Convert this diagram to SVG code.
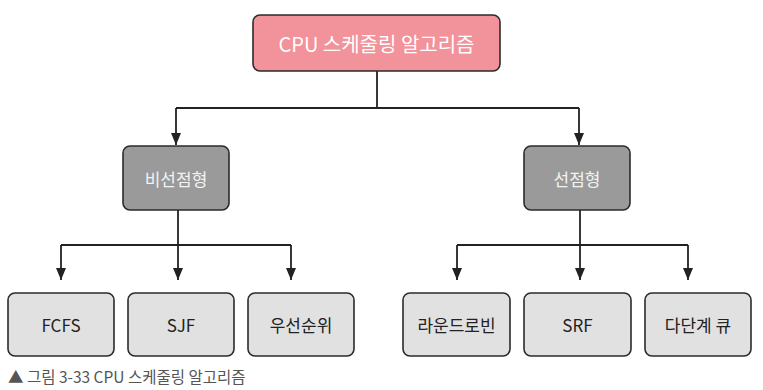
<svg xmlns="http://www.w3.org/2000/svg" width="763" height="390" viewBox="0 0 763 390">
<style>
.box{stroke:#2b2b2b;stroke-width:1.6}
.root{fill:#f2929b}
.mid{fill:#9a9a9a}
.leaf{fill:#e1e1e1}
text{font-family:"Noto Sans CJK KR","Noto Sans",sans-serif;text-anchor:middle;dominant-baseline:central}
.t-root{fill:#ffffff;font-size:20px}
.t-mid{fill:#f2f2f2;font-size:17px}
.t-leaf{fill:#222222;font-size:17px}
.cap{fill:#555555;font-size:15.5px;text-anchor:start;font-family:"Noto Sans CJK KR","Noto Sans",sans-serif}
.ln{stroke:#222;stroke-width:1.8;fill:none}
</style>
<defs>
<marker id="ah" viewBox="0 0 12 10" refX="12" refY="5" markerWidth="12" markerHeight="10" markerUnits="userSpaceOnUse" orient="auto">
<path d="M0,0 L12,5 L0,10 Z" fill="#222"/>
</marker>
</defs>
<rect width="763" height="390" fill="#ffffff"/>
<g id="connectors">
<path class="ln" d="M377,71 V108"/>
<path class="ln" d="M176,108 H579"/>
<path class="ln" d="M176,108 V145" marker-end="url(#ah)"/>
<path class="ln" d="M579,108 V145" marker-end="url(#ah)"/>
<path class="ln" d="M178,210 V280" marker-end="url(#ah)"/>
<path class="ln" d="M61,245 H291"/>
<path class="ln" d="M61,245 V280" marker-end="url(#ah)"/>
<path class="ln" d="M291,245 V280" marker-end="url(#ah)"/>
<path class="ln" d="M580,210 V280" marker-end="url(#ah)"/>
<path class="ln" d="M457,245 H688"/>
<path class="ln" d="M457,245 V280" marker-end="url(#ah)"/>
<path class="ln" d="M688,245 V280" marker-end="url(#ah)"/>
</g>
<g id="root">
<rect class="box root" x="253" y="15" width="247" height="56" rx="7"/>
<text class="t-root" x="376.5" y="43">CPU 스케줄링 알고리즘</text>
</g>
<g id="nonpreemptive">
<rect class="box mid" x="123" y="146" width="106" height="64" rx="7"/>
<text class="t-mid" x="176" y="178">비선점형</text>
</g>
<g id="preemptive">
<rect class="box mid" x="524" y="146" width="106" height="64" rx="7"/>
<text class="t-mid" x="577" y="178">선점형</text>
</g>
<g id="fcfs">
<rect class="box leaf" x="8" y="293" width="106" height="63" rx="7"/>
<text class="t-leaf" x="61" y="324.5">FCFS</text>
</g>
<g id="sjf">
<rect class="box leaf" x="128" y="293" width="106" height="63" rx="7"/>
<text class="t-leaf" x="181" y="324.5">SJF</text>
</g>
<g id="priority">
<rect class="box leaf" x="248" y="293" width="106" height="63" rx="7"/>
<text class="t-leaf" x="301" y="324.5">우선순위</text>
</g>
<g id="roundrobin">
<rect class="box leaf" x="403" y="293" width="107" height="63" rx="7"/>
<text class="t-leaf" x="456.5" y="324.5">라운드로빈</text>
</g>
<g id="srf">
<rect class="box leaf" x="524" y="293" width="107" height="63" rx="7"/>
<text class="t-leaf" x="577.5" y="324.5">SRF</text>
</g>
<g id="multilevel">
<rect class="box leaf" x="645" y="293" width="106" height="63" rx="7"/>
<text class="t-leaf" x="698" y="324.5">다단계 큐</text>
</g>
<text class="cap" x="8" y="376">▲ 그림 3-33 CPU 스케줄링 알고리즘</text>
</svg>
